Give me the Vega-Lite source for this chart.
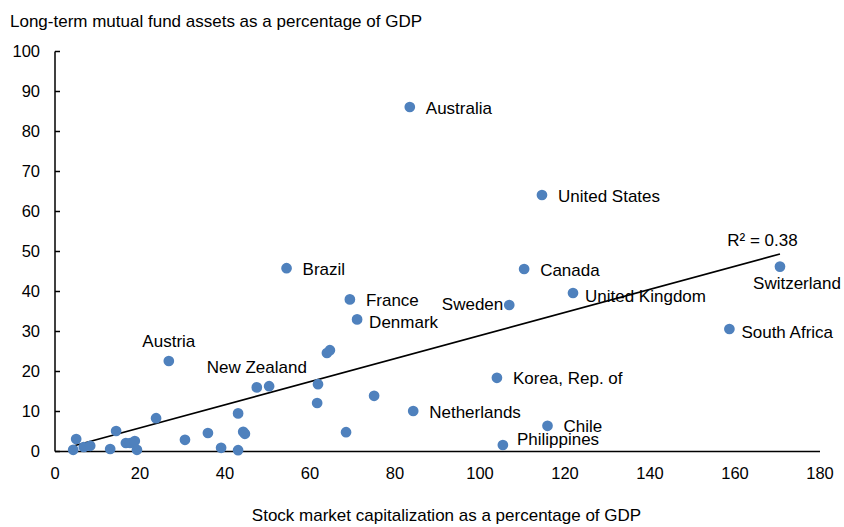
{
  "$schema": "https://vega.github.io/schema/vega-lite/v6.json",
  "width": 765,
  "height": 400,
  "autosize": {"type": "none"},
  "padding": {"left": 54.5, "top": 51, "right": 24.5, "bottom": 76},
  "background": "white",
  "config": {
    "view": {"stroke": null},
    "font": "Liberation Sans",
    "text": {"font": "Liberation Sans", "fontSize": 17, "color": "#000000"}
  },
  "datasets": {
    "funds": [
      {"country": "Australia", "stock": 83.6, "fund": 86.0},
      {"country": "United States", "stock": 114.7, "fund": 64.0},
      {"country": "Canada", "stock": 110.5, "fund": 45.5},
      {"country": "Switzerland", "stock": 170.7, "fund": 46.1},
      {"country": "United Kingdom", "stock": 122.0, "fund": 39.5},
      {"country": "Sweden", "stock": 107.0, "fund": 36.5},
      {"country": "South Africa", "stock": 158.8, "fund": 30.5},
      {"country": "Brazil", "stock": 54.6, "fund": 45.7},
      {"country": "France", "stock": 69.5, "fund": 37.9},
      {"country": "Denmark", "stock": 71.2, "fund": 32.9},
      {"country": "Austria", "stock": 26.9, "fund": 22.5},
      {"country": "New Zealand", "stock": 47.6, "fund": 15.9},
      {"country": "Korea, Rep. of", "stock": 104.1, "fund": 18.3},
      {"country": "Netherlands", "stock": 84.4, "fund": 10.0},
      {"country": "Chile", "stock": 116.0, "fund": 6.3},
      {"country": "Philippines", "stock": 105.5, "fund": 1.5},
      {"stock": 50.5, "fund": 16.2},
      {"stock": 64.1, "fund": 24.5},
      {"stock": 64.8, "fund": 25.2},
      {"stock": 62.0, "fund": 16.7},
      {"stock": 61.8, "fund": 12.0},
      {"stock": 75.2, "fund": 13.8},
      {"stock": 68.6, "fund": 4.7},
      {"stock": 43.2, "fund": 9.4},
      {"stock": 44.4, "fund": 4.8},
      {"stock": 44.8, "fund": 4.3},
      {"stock": 43.2, "fund": 0.2},
      {"stock": 5.1, "fund": 3.0},
      {"stock": 4.4, "fund": 0.3},
      {"stock": 6.9, "fund": 1.0},
      {"stock": 8.4, "fund": 1.3},
      {"stock": 13.1, "fund": 0.5},
      {"stock": 14.5, "fund": 5.0},
      {"stock": 16.8, "fund": 2.0},
      {"stock": 17.8, "fund": 2.0},
      {"stock": 18.9, "fund": 2.5},
      {"stock": 19.4, "fund": 0.3},
      {"stock": 23.9, "fund": 8.2},
      {"stock": 30.7, "fund": 2.8},
      {"stock": 36.1, "fund": 4.5},
      {"stock": 39.2, "fund": 0.8}
    ],
    "trend": [
      {"stock": 4.4, "fund": 1.25},
      {"stock": 170.7, "fund": 49.25}
    ]
  },
  "encoding": {
    "x": {
      "field": "stock",
      "type": "quantitative",
      "scale": {"domain": [0, 180], "nice": false, "zero": false},
      "axis": {
        "title": "Stock market capitalization as a percentage of GDP",
        "values": [0, 20, 40, 60, 80, 100, 120, 140, 160, 180],
        "grid": false,
        "ticks": false,
        "domainColor": "#000000",
        "domainWidth": 1.5,
        "labelFont": "Liberation Sans",
        "labelFontSize": 16.5,
        "labelColor": "#000000",
        "labelPadding": 14,
        "labelFlush": false,
        "titleFont": "Liberation Sans",
        "titleFontSize": 17,
        "titleFontWeight": "normal",
        "titleColor": "#000000",
        "titleX": 391.5,
        "titleY": 69,
        "titleAlign": "center",
        "titleBaseline": "alphabetic"
      }
    },
    "y": {
      "field": "fund",
      "type": "quantitative",
      "scale": {"domain": [0, 100], "nice": false},
      "axis": {
        "title": "Long-term mutual fund assets as a percentage of GDP",
        "values": [0, 10, 20, 30, 40, 50, 60, 70, 80, 90, 100],
        "grid": false,
        "ticks": true,
        "tickSize": -5,
        "tickColor": "#000000",
        "tickWidth": 1.5,
        "domainColor": "#000000",
        "domainWidth": 1.5,
        "labelFont": "Liberation Sans",
        "labelFontSize": 16.5,
        "labelColor": "#000000",
        "labelPadding": 20,
        "labelFlush": false,
        "titleFont": "Liberation Sans",
        "titleFontSize": 17,
        "titleFontWeight": "normal",
        "titleColor": "#000000",
        "titleAngle": 0,
        "titleX": -45,
        "titleY": -25,
        "titleAlign": "left",
        "titleBaseline": "alphabetic"
      }
    }
  },
  "layer": [
    {
      "data": {"name": "trend"},
      "mark": {"type": "line", "color": "#000000", "strokeWidth": 1.75},
      "encoding": {}
    },
    {
      "data": {"name": "trend"},
      "transform": [{"filter": "datum.stock > 100"}],
      "mark": {"type": "text", "align": "center", "baseline": "alphabetic", "dx": -17.5, "dy": -8},
      "encoding": {"text": {"value": "R² = 0.38"}}
    },
    {
      "data": {"name": "funds"},
      "mark": {"type": "point", "shape": "circle", "filled": true, "size": 115, "color": "#4F81BD", "opacity": 1},
      "encoding": {}
    },
    {
      "data": {"name": "funds"},
      "transform": [{"filter": {"field": "country", "oneOf": ["Australia", "United States", "Canada", "Brazil", "France", "Korea, Rep. of", "Netherlands", "Chile"]}}],
      "mark": {"type": "text", "align": "left", "baseline": "middle", "dx": 16, "dy": 1.5},
      "encoding": {"text": {"field": "country"}}
    },
    {
      "data": {"name": "funds"},
      "transform": [{"filter": {"field": "country", "oneOf": ["Denmark", "South Africa", "United Kingdom"]}}],
      "mark": {"type": "text", "align": "left", "baseline": "middle", "dx": 12, "dy": 3.5},
      "encoding": {"text": {"field": "country"}}
    },
    {
      "data": {"name": "funds"},
      "transform": [{"filter": {"field": "country", "oneOf": ["Philippines"]}}],
      "mark": {"type": "text", "align": "left", "baseline": "middle", "dx": 14, "dy": -5},
      "encoding": {"text": {"field": "country"}}
    },
    {
      "data": {"name": "funds"},
      "transform": [{"filter": {"field": "country", "oneOf": ["Sweden"]}}],
      "mark": {"type": "text", "align": "right", "baseline": "middle", "dx": -6, "dy": 0},
      "encoding": {"text": {"field": "country"}}
    },
    {
      "data": {"name": "funds"},
      "transform": [{"filter": {"field": "country", "oneOf": ["Austria", "New Zealand"]}}],
      "mark": {"type": "text", "align": "center", "baseline": "middle", "dx": 0, "dy": -19.5},
      "encoding": {"text": {"field": "country"}}
    },
    {
      "data": {"name": "funds"},
      "transform": [{"filter": {"field": "country", "oneOf": ["Switzerland"]}}],
      "mark": {"type": "text", "align": "center", "baseline": "middle", "dx": 17, "dy": 17},
      "encoding": {"text": {"field": "country"}}
    }
  ]
}
